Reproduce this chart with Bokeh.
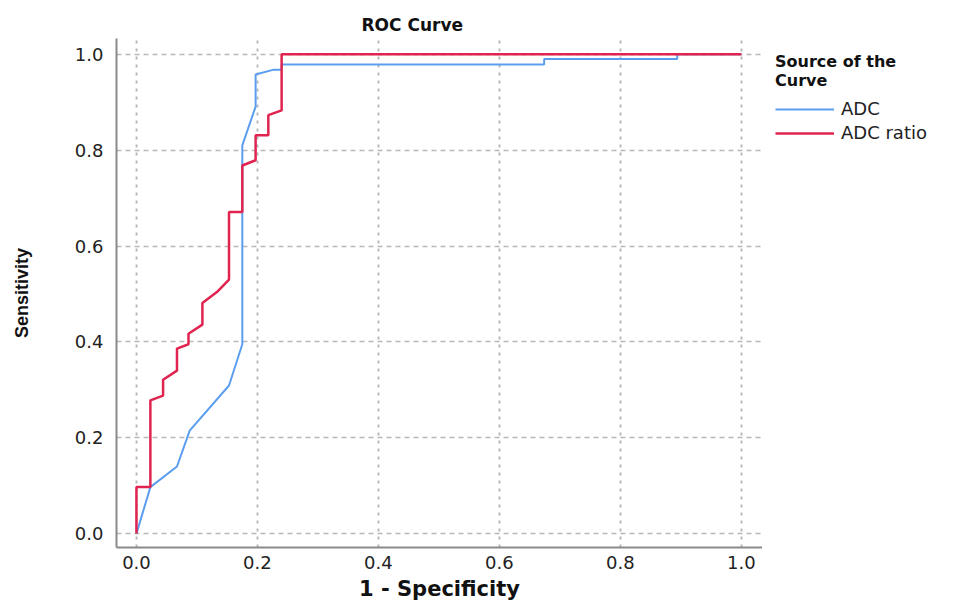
from bokeh.plotting import figure
from bokeh.models import Range1d, Legend, LegendItem, FixedTicker
from bokeh.layouts import row
from bokeh.embed import file_html
from bokeh.resources import INLINE

# ---- data ----
adc_fpr = [0.0, 0.023, 0.067, 0.088, 0.153, 0.175, 0.175, 0.197, 0.197, 0.227,
           0.240, 0.240, 0.674, 0.674, 0.894, 0.894, 1.0]
adc_sens = [0.0, 0.097, 0.140, 0.215, 0.309, 0.395, 0.810, 0.891, 0.958, 0.968,
            0.968, 0.979, 0.979, 0.990, 0.990, 1.0, 1.0]

ratio_fpr = [0.0, 0.0, 0.023, 0.023, 0.044, 0.044, 0.067, 0.067, 0.086, 0.086,
             0.109, 0.109, 0.133, 0.153, 0.153, 0.175, 0.175, 0.197, 0.197, 0.218,
             0.218, 0.240, 0.240, 1.0]
ratio_sens = [0.0, 0.097, 0.097, 0.278, 0.288, 0.321, 0.340, 0.386, 0.395, 0.417,
              0.436, 0.481, 0.504, 0.530, 0.671, 0.671, 0.768, 0.779, 0.831, 0.831,
              0.873, 0.883, 1.0, 1.0]

series_names = ["ADC", "ADC ratio"]
tick_values = [0.0, 0.2, 0.4, 0.6, 0.8, 1.0]
tick_labels = ["0.0", "0.2", "0.4", "0.6", "0.8", "1.0"]

title_text = "ROC Curve"
x_title = "1 - Specificity"
y_title = "Sensitivity"
legend_title = "Source of the\nCurve"

BLUE = "#5b9ef0"
RED = "#e0244f"
FONT = "DejaVu Sans"

# ---------------- main chart ----------------
p = figure(width=762, height=610, output_backend="svg", toolbar_location=None,
           x_range=Range1d(-0.033, 1.035), y_range=Range1d(-0.029, 1.033),
           min_border_left=116, min_border_right=0, min_border_top=38,
           min_border_bottom=63)
p.outline_line_color = None
p.background_fill_color = "white"
p.border_fill_color = "white"

p.title.text = title_text
p.title.text_font = FONT
p.title.text_font_size = "17px"
p.title.text_font_style = "bold"
p.title.text_color = "#111111"
p.title.align = "left"
p.title.offset = 245
p.title.standoff = 7

for ax in (p.xaxis[0], p.yaxis[0]):
    ax.ticker = FixedTicker(ticks=tick_values)
    ax.major_label_overrides = {v: s for v, s in zip(tick_values, tick_labels)}
    ax.axis_line_color = "#8a8a8a"
    ax.axis_line_width = 2
    ax.major_tick_in = 0
    ax.major_tick_out = 0
    ax.minor_tick_line_color = None
    ax.major_label_text_font = FONT
    ax.major_label_text_font_size = "18px"
    ax.major_label_text_color = "#222222"
    ax.axis_label_text_font_style = "bold"
    ax.axis_label_text_color = "#111111"

p.xaxis.major_label_standoff = 8
p.xaxis.axis_label = x_title
p.xaxis.axis_label_text_font = FONT
p.xaxis.axis_label_text_font_size = "21px"
p.xaxis.axis_label_standoff = 5

p.yaxis.major_label_standoff = 13
p.yaxis.axis_label = y_title
p.yaxis.axis_label_text_font = "Liberation Sans"
p.yaxis.axis_label_text_font_size = "18px"
p.yaxis.axis_label_standoff = 40

p.xgrid.grid_line_color = "#b4b4b4"
p.xgrid.grid_line_dash = "3 5"
p.xgrid.grid_line_width = 1.8
p.ygrid.grid_line_color = "#b8b8b8"
p.ygrid.grid_line_dash = "5 4"
p.ygrid.grid_line_width = 1.6

p.line(adc_fpr, adc_sens, line_color=BLUE, line_width=2)
p.line(ratio_fpr, ratio_sens, line_color=RED, line_width=2.5)

# ---------------- legend panel ----------------
q = figure(width=209, height=610, output_backend="svg", toolbar_location=None,
           x_range=Range1d(2, 3), y_range=Range1d(2, 3),
           x_axis_type=None, y_axis_type=None,
           min_border_left=0, min_border_right=0, min_border_top=0,
           min_border_bottom=0)
q.outline_line_color = None
q.xgrid.visible = False
q.ygrid.visible = False
q.background_fill_color = "white"
q.border_fill_color = "white"

# same series, out of the legend panel's view; used only for legend glyphs
q_adc = q.line(adc_fpr, adc_sens, line_color=BLUE, line_width=2)
q_ratio = q.line(ratio_fpr, ratio_sens, line_color=RED, line_width=2.5)

legend = Legend(items=[LegendItem(label=series_names[0], renderers=[q_adc]),
                       LegendItem(label=series_names[1], renderers=[q_ratio])],
                location=(13, 404), padding=0, margin=0, spacing=3,
                glyph_width=59, glyph_height=20, label_height=20,
                label_standoff=7, label_text_font=FONT,
                label_text_font_size="18px", label_text_color="#222222",
                title=legend_title, title_text_font=FONT,
                title_text_font_size="16px", title_text_font_style="bold",
                title_text_color="#111111", title_standoff=8,
                border_line_color=None, background_fill_alpha=0)
q.add_layout(legend)

layout = row(p, q)
open("out.html", "w").write(file_html(layout, INLINE))
